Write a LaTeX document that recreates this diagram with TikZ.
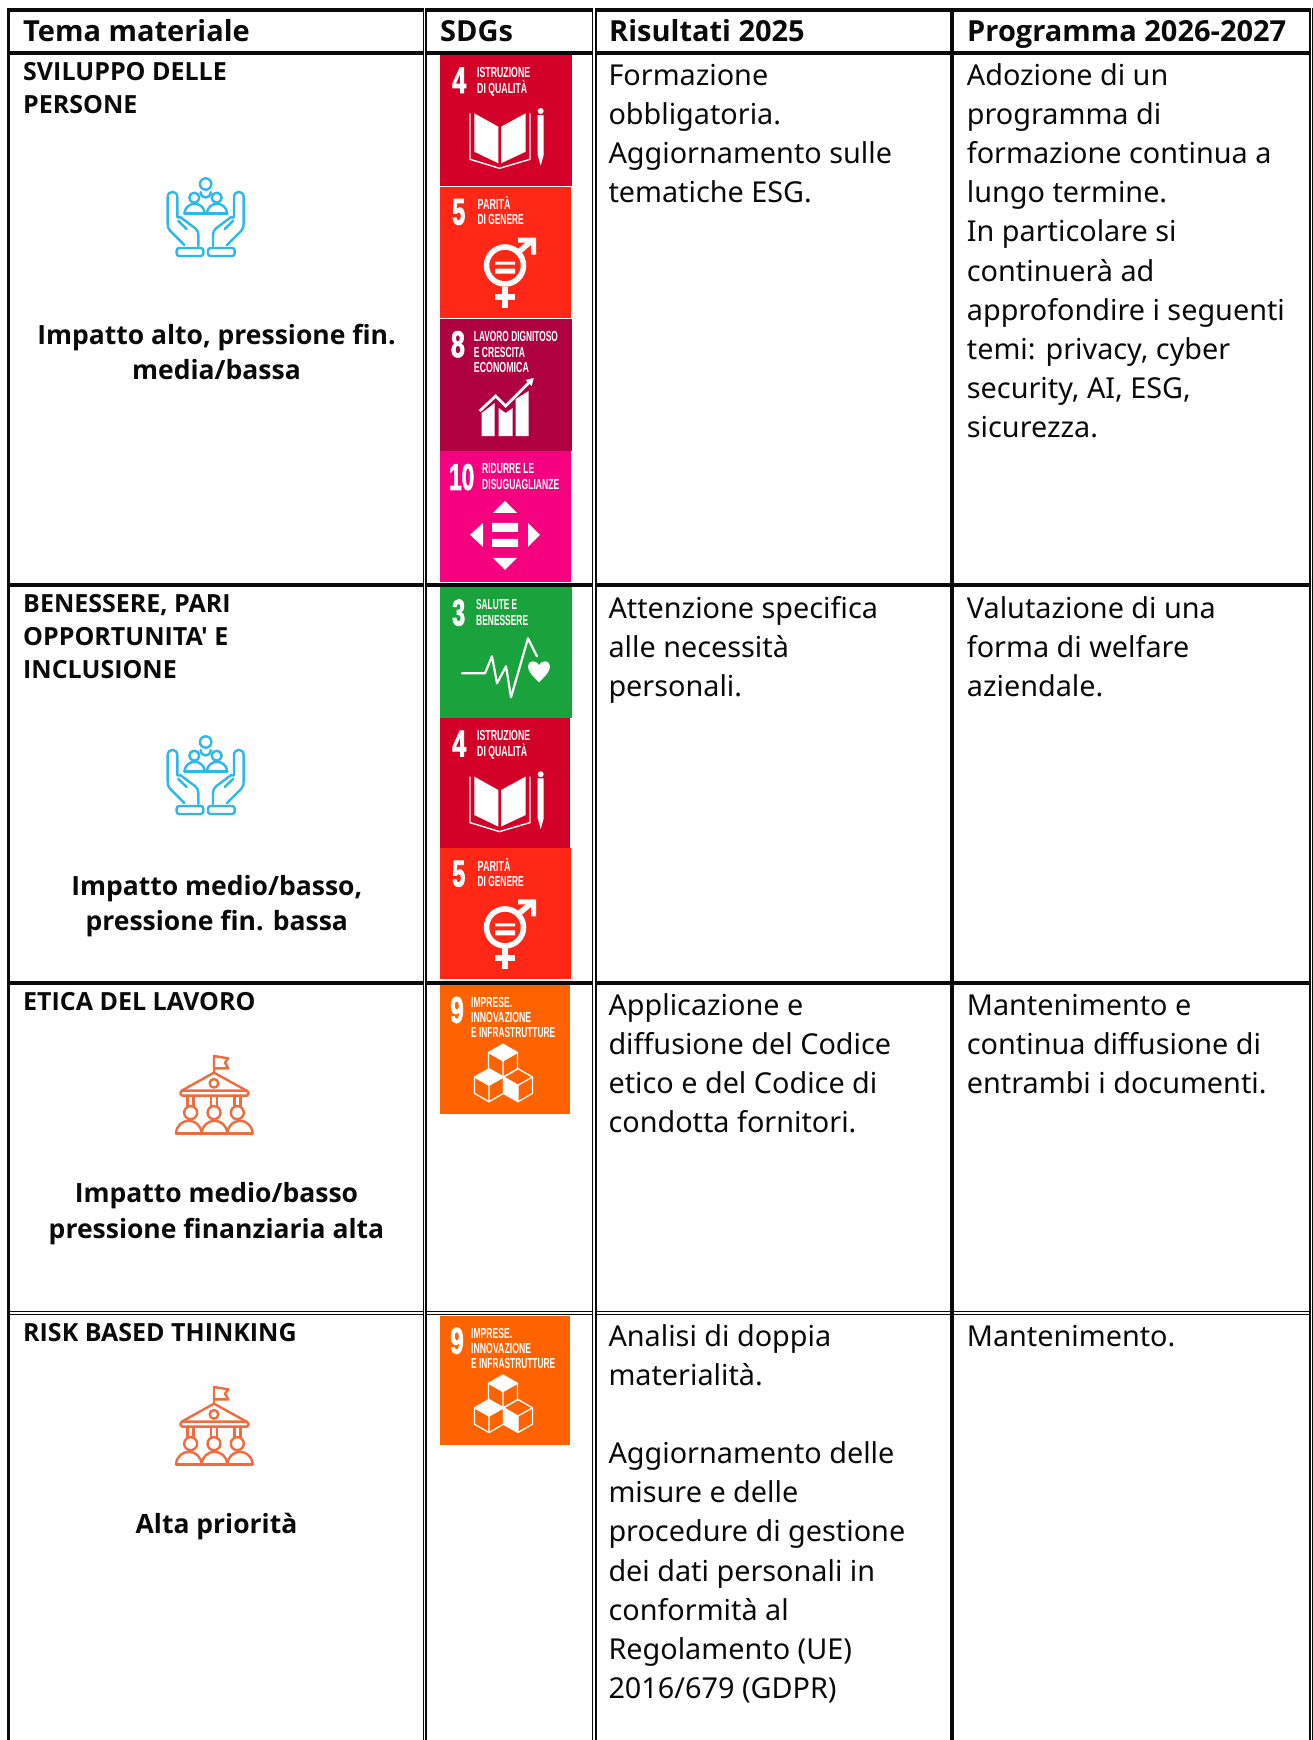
\documentclass[tikz,border=0pt]{standalone}
\usepackage{fontspec}
\usepackage{graphicx}
\setmainfont{Noto Sans}
\newfontfamily\boldfam{Open Sans}
\newfontfamily\tilefont{Liberation Sans}
\newfontfamily\tiledig{Liberation Sans}[BoldFeatures={FakeBold=2.5}]
\definecolor{inkc}{HTML}{0A0A0A}
\definecolor{sdgfour}{HTML}{D30028}
\definecolor{sdgfive}{HTML}{FF2816}
\definecolor{sdgeight}{HTML}{AF0040}
\definecolor{sdgten}{HTML}{F5007F}
\definecolor{sdgthree}{HTML}{1AA33C}
\definecolor{sdgnine}{HTML}{FF6200}
\definecolor{iconblue}{HTML}{2DB8EC}
\definecolor{iconorange}{HTML}{EE6C3D}
\newcommand{\hdfont}{\boldfam\bfseries\fontsize{29}{30}\selectfont}
\newcommand{\bdfont}{\fontsize{28.8}{39.1}\selectfont}
\newcommand{\tmfont}{\boldfam\bfseries\fontsize{25}{33}\selectfont}
\newcommand{\cnfont}{\boldfam\bfseries\fontsize{26.5}{35.6}\selectfont}
\newcommand{\bdtop}{\rule{0pt}{30pt}}
\newcommand{\tmtop}{\rule{0pt}{22pt}}
\newcommand{\cntop}{\rule{0pt}{24pt}}
\tikzset{
  ruleh/.style={line width=4pt,inkc},
  rulethin/.style={line width=1.1pt,inkc},
  rulethick/.style={line width=2.1pt,inkc},
  headcell/.style={anchor=base west,inner sep=0pt,font=\hdfont,text=inkc},
  bodycell/.style={anchor=north west,inner sep=0pt,align=left,font=\bdfont,text=inkc},
  themecell/.style={anchor=north west,inner sep=0pt,align=left,font=\tmfont,text=inkc},
  centercell/.style={anchor=north,inner sep=0pt,align=center,font=\cnfont,text=inkc},
  tiletext/.style={anchor=base west,inner sep=0pt,text=white},
  iconblueline/.style={draw=iconblue,line width=2.4pt,line join=round,line cap=round},
  iconorangeline/.style={draw=iconorange,line width=2.4pt,line join=round,line cap=round},
}
% tile text: local x, baseline, width, text
\newcommand{\ttx}[4]{\node[tiletext] at (#1,#2) {\resizebox{#3pt}{\height}{\tilefont\bfseries\fontsize{14.6}{15}\selectfont #4}};}
\newcommand{\tdg}[4]{\node[tiletext] at (#1,#2) {\resizebox{#3pt}{\height}{\tiledig\bfseries\fontsize{37}{38}\selectfont #4}};}
\newcommand{\tilefour}[3]{\begin{scope}[shift={(#1,#2)}]
  \fill[sdgfour] (0,0) rectangle (#3,131);
  \tdg{12}{38}{14}{4}
  \ttx{37}{22.5}{53}{ISTRUZIONE}
  \ttx{37}{38}{50}{DI QUALITÀ}
  \fill[white] (34.3,58.3) -- (58.3,71.7) -- (58.3,108.3) -- (34.3,96.7) -- cycle;
  \fill[white] (61,71.7) -- (85.7,58.3) -- (85.7,96.7) -- (61,108.3) -- cycle;
  \draw[white,line width=1.4pt] (30,58.3) -- (30,104.3) -- (59.5,113.3) -- (90,104.3) -- (90,58.3);
  \fill[white] (97.7,60) -- (103.7,60) -- (103.7,100) -- (100.7,110.7) -- (97.7,100) -- cycle;
  \fill[white] (100.7,56) circle[radius=3pt];
\end{scope}}
\newcommand{\tilefive}[2]{\begin{scope}[shift={(#1,#2)}]
  \fill[sdgfive] (0,0) rectangle (131,131);
  \tdg{12}{38}{13}{5}
  \ttx{37.5}{23}{33}{PARITÀ}
  \ttx{37.5}{38}{46}{DI GENERE}
  \draw[white,line width=5.5pt] (65,79) circle[radius=18.5pt];
  \fill[white] (55,75) rectangle (75,78) (55,82) rectangle (75,87);
  \draw[white,line width=5.5pt] (78,66) -- (92,54);
  \fill[white] (78,51) -- (96,51) -- (96,68) -- (91,68) -- (91,56) -- (78,56) -- cycle;
  \draw[white,line width=6pt] (64.5,100) -- (64.5,121);
  \draw[white,line width=6pt] (55,110) -- (75,110);
\end{scope}}
\newcommand{\tileeight}[2]{\begin{scope}[shift={(#1,#2)}]
  \fill[sdgeight] (0,0) rectangle (132,131.5);
  \tdg{11}{38}{14}{8}
  \ttx{34}{22}{84}{LAVORO DIGNITOSO}
  \ttx{34}{38}{51}{E CRESCITA}
  \ttx{34}{53.5}{55}{ECONOMICA}
  \fill[white] (42,94) -- (55,84) -- (55,117) -- (42,117) -- cycle;
  \fill[white] (59,89) -- (66,94) -- (73,89) -- (73,117) -- (59,117) -- cycle;
  \fill[white] (76,80) -- (89,72) -- (89,117) -- (76,117) -- cycle;
  \draw[white,line width=2.8pt] (40,92) -- (56,77) -- (66,87) -- (90,63);
  \fill[white] (94,59) -- (86,61) -- (92,67) -- cycle;
\end{scope}}
\newcommand{\tileten}[2]{\begin{scope}[shift={(#1,#2)}]
  \fill[sdgten] (0,0) rectangle (131,131);
  \tdg{9}{39}{25}{10}
  \ttx{42}{23}{52}{RIDURRE LE}
  \ttx{42}{39}{77}{DISUGUAGLIANZE}
  \fill[white] (65,50) -- (77,62) -- (53,62) -- cycle;
  \fill[white] (65,119) -- (77,107) -- (53,107) -- cycle;
  \fill[white] (30,84) -- (43,72) -- (43,96) -- cycle;
  \fill[white] (100,84) -- (88,72) -- (88,96) -- cycle;
  \fill[white] (52,72) rectangle (78,81) (52,88) rectangle (78,96);
\end{scope}}
\newcommand{\tilethree}[2]{\begin{scope}[shift={(#1,#2)}]
  \fill[sdgthree] (0,0) rectangle (131.5,131);
  \tdg{12}{38}{13}{3}
  \ttx{36}{22}{41}{SALUTE E}
  \ttx{36}{38}{52}{BENESSERE}
  \draw[white,line width=2.2pt,line join=round,line cap=round] (22,86) -- (45,86) -- (52,69) -- (57,96) -- (66,79) -- (71,110) -- (88,51) -- (97,69);
  \fill[white] (99,95) .. controls (92,88) and (88,84) .. (88,79) .. controls (88,73) and (96,72) .. (99,78) .. controls (102,72) and (110,73) .. (110,79) .. controls (110,84) and (106,88) .. (99,95) -- cycle;
\end{scope}}
\newcommand{\cube}[3]{% centre x, y, filled-face selector
  \draw[white,line width=1.3pt,line join=round] (#1,#2-16.5) -- (#1+14.5,#2-8.2) -- (#1+14.5,#2+8.2) -- (#1,#2+16.5) -- (#1-14.5,#2+8.2) -- (#1-14.5,#2-8.2) -- cycle;
  \draw[white,line width=1.3pt] (#1-14.5,#2-8.2) -- (#1,#2) -- (#1+14.5,#2-8.2) (#1,#2) -- (#1,#2+16.5);
  \ifnum#3=1 \fill[white] (#1,#2-16.5) -- (#1+14.5,#2-8.2) -- (#1,#2) -- (#1-14.5,#2-8.2) -- cycle; \fi
  \ifnum#3=2 \fill[white] (#1-14.5,#2-8.2) -- (#1,#2) -- (#1,#2+16.5) -- (#1-14.5,#2+8.2) -- cycle; \fi
}
\newcommand{\tilenine}[2]{\begin{scope}[shift={(#1,#2)}]
  \fill[sdgnine] (0,0) rectangle (130,129.5);
  \tdg{10}{38}{13.5}{9}
  \ttx{31}{22.5}{41}{IMPRESE.}
  \ttx{31}{38}{60}{INNOVAZIONE}
  \ttx{31}{53}{84}{E INFRASTRUTTURE}
  \cube{63}{76}{1}
  \cube{49}{100.5}{1}
  \cube{78}{100.5}{2}
\end{scope}}
\newcommand{\handpath}{
  \draw[iconblueline] (103,255) -- (60,212) .. controls (54,205) and (53,200) .. (53,190) -- (53,112) .. controls (53,90) and (82,90) .. (82,112) -- (82,172) -- (92,172) -- (136,205) .. controls (142,211) and (145,216) .. (145,225) -- (145,258);
  \draw[iconblueline] (85,183) -- (110,207);
  \draw[iconblueline,rounded corners=2.5pt] (80,264) rectangle (160,288);
}
\newcommand{\peopleicon}[2]{\begin{scope}[shift={(#1,#2)},x=.3333pt,y=-.3333pt]
  \handpath
  \begin{scope}[shift={(334,0)},xscale=-1]\handpath\end{scope}
  \draw[iconblueline] (167,72) circle[radius=5.7pt];
  \draw[iconblueline] (133,113) circle[radius=5pt];
  \draw[iconblueline] (200,113) circle[radius=5pt];
  \draw[iconblueline] (103,160) .. controls (108,122) and (160,122) .. (165,160);
  \draw[iconblueline] (170,160) .. controls (175,122) and (227,122) .. (232,160);
  \draw[iconblueline] (103,160) -- (232,160);
  \draw[iconblueline] (152,96) .. controls (152,118) and (182,118) .. (182,96);
\end{scope}}
\newcommand{\schoolicon}[2]{\begin{scope}[shift={(#1,#2)},x=.3333pt,y=-.3333pt]
  \draw[iconorangeline] (222,155) -- (222,108) -- (265,115) -- (255,128) -- (265,145) -- (222,145);
  \draw[iconorangeline] (125,212) -- (222,158) -- (320,212);
  \draw[iconorangeline,rounded corners=1.5pt] (122,212) rectangle (325,227);
  \draw[iconorangeline] (222,190) circle[radius=4.3pt];
  \foreach \cx in {152,222,292}{
    \draw[iconorangeline] (\cx-9,227) -- (\cx-9,258) (\cx+9,227) -- (\cx+9,258);
    \draw[iconorangeline] (\cx,278) circle[radius=6.5pt];
  }
  \draw[iconorangeline] (108,340) .. controls (112,290) and (181,290) .. (185,340);
  \draw[iconorangeline] (185,340) .. controls (189,290) and (258,290) .. (262,340);
  \draw[iconorangeline] (262,340) .. controls (266,290) and (334,290) .. (338,340);
  \draw[iconorangeline] (108,340) -- (338,340);
\end{scope}}
\begin{document}
\begin{tikzpicture}[x=1pt,y=-1pt]
\useasboundingbox (0,0) rectangle (1313,1740);
\fill[white] (0,0) rectangle (1313,1740);
% SDG tiles
\tilefour{440}{55}{132}
\tilefive{440}{186.5}
\tileeight{439.7}{319}
\tileten{440}{450.8}
\tilethree{440}{587.3}
\tilefour{440}{718.3}{130}
\tilefive{440}{848.4}
\tilenine{440}{984.7}
\tilenine{440}{1315.5}
% horizontal rules
\foreach \yy/\ww in {10/4,53/4,584.9/4,983/4,1311.5/1.7,1314.5/1.7}{
  \draw[inkc,line width=\ww pt] (7,\yy) -- (424.4,\yy);
  \draw[inkc,line width=\ww pt] (425.3,\yy) -- (593.3,\yy);
  \draw[inkc,line width=\ww pt] (594.7,\yy) -- (1310.6,\yy);
}
% vertical rules
\draw[inkc,line width=2.6pt] (8.2,8) -- (8.2,1740);
\draw[rulethin] (423.8,8) -- (423.8,1740);
\draw[rulethick] (426.3,8) -- (426.3,1740);
\draw[rulethin] (592.8,8) -- (592.8,1740);
\draw[rulethick] (595.7,8) -- (595.7,1740);
\draw[ruleh] (952,8) -- (952,1740);
\draw[line width=1.6pt,inkc] (1309.9,8) -- (1309.9,1740);
\draw[line width=1.4pt,inkc] (1312.4,8) -- (1312.4,1740);
% header
\node[headcell] (h1) at (23,41.7) {Tema materiale};
\node[headcell] (h2) at (440,41.7) {SDGs};
\node[headcell] (h3) at (609,41.7) {Risultati 2025};
\node[headcell] (h4) at (967,41.7) {Programma 2026-2027};
% column 1
\node[themecell] (t1) at (23,58.7) {\tmtop SVILUPPO DELLE\\PERSONE};
\peopleicon{150}{160}
\node[centercell] (c1) at (216.5,320) {\cntop Impatto alto, pressione fin.\\media/bassa};
\node[themecell] (t2) at (23,590.7) {\tmtop BENESSERE, PARI\\OPPORTUNITA' E\\INCLUSIONE};
\peopleicon{150}{718}
\node[centercell] (c2) at (216.8,871) {\cntop Impatto medio/basso,\\pressione fin. bassa};
\node[themecell] (t3) at (23,988.5) {\tmtop ETICA DEL LAVORO};
\schoolicon{140}{1020}
\node[centercell] (c3) at (216.5,1178.5) {\cntop Impatto medio/basso\\pressione finanziaria alta};
\node[themecell] (t4) at (23,1319.5) {\tmtop RISK BASED THINKING};
\schoolicon{140}{1351}
\node[centercell] (c4) at (216.5,1509) {\cntop Alta priorità};
% column 3
\node[bodycell] (r1) at (608.3,55.3) {\bdtop Formazione\\obbligatoria.\\Aggiornamento sulle\\tematiche ESG.};
\node[bodycell] (r2) at (608.3,588.5) {\bdtop Attenzione specifica\\alle necessità\\personali.};
\node[bodycell] (r3) at (608.3,985.3) {\bdtop Applicazione e\\diffusione del Codice\\etico e del Codice di\\condotta fornitori.};
\node[bodycell] (r4) at (608.3,1316.2) {\bdtop Analisi di doppia\\materialità.\\~\\Aggiornamento delle\\misure e delle\\procedure di gestione\\dei dati personali in\\conformità al\\Regolamento (UE)\\2016/679 (GDPR)};
% column 4
\node[bodycell] (p1) at (966.7,55.3) {\bdtop Adozione di un\\programma di\\formazione continua a\\lungo termine.\\In particolare si\\continuerà ad\\approfondire i seguenti\\temi: privacy, cyber\\security, AI, ESG,\\sicurezza.};
\node[bodycell] (p2) at (966.7,588.5) {\bdtop Valutazione di una\\forma di welfare\\aziendale.};
\node[bodycell] (p3) at (966.7,985.3) {\bdtop Mantenimento e\\continua diffusione di\\entrambi i documenti.};
\node[bodycell] (p4) at (966.7,1316.2) {\bdtop Mantenimento.};
\end{tikzpicture}
\end{document}
